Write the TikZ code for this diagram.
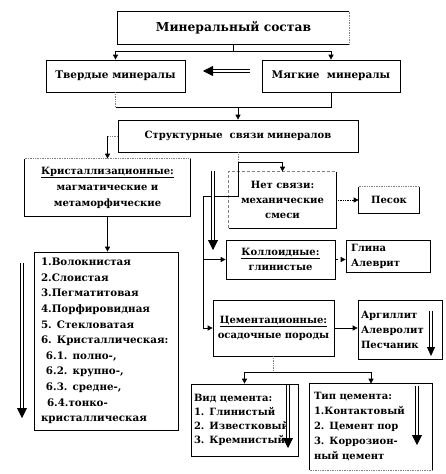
\documentclass[tikz,border=0pt]{standalone}
\usepackage{fontspec}
\setmainfont{DejaVu Serif}
\usetikzlibrary{arrows.meta}
\begin{document}
\begin{tikzpicture}[x={(1pt,0pt)}, y={(0pt,-1pt)},
  lw/.style={line width=0.7pt},
  box/.style={lw, draw, inner sep=0pt, font=\bfseries\fontsize{10}{15}\selectfont, align=center},
  nobox/.style={box, draw=none},
  lbox/.style={box, align=left},
  arr/.style={lw, -{Triangle[width=5pt,length=5pt]}},
  dbl/.style={double, double distance=2.2pt, line width=0.8pt, -{Triangle[width=10pt,length=10pt]}},
  dotside/.style={lw, densely dotted, gray}
]
\useasboundingbox (0,0) rectangle (445,474);

% nodes
\node[nobox, minimum width=231, minimum height=32, font=\bfseries\fontsize{12.3}{15}\selectfont] (min) at (233.5,28) {Минеральный состав};
\draw[lw] (min.north east) -- (min.north west) -- (min.south west) -- (min.south east);
\draw[dotside] (min.south east) -- (min.north east);

\node[box, minimum width=139, minimum height=32, font=\bfseries\fontsize{10.5}{15}\selectfont] (tverd) at (115.5,76) {Твердые минералы};
\node[box, minimum width=138, minimum height=32, font=\bfseries\fontsize{10.5}{15}\selectfont] (myag) at (331,76) {Мягкие \ минералы};

\node[box, minimum width=240, minimum height=32] (struct) at (238,136) {Структурные \ связи минералов};

\node[nobox, minimum width=165, minimum height=57, font=\bfseries\fontsize{10}{16}\selectfont] (kryst) at (107.5,187.5) {\underline{Кристаллизационные:}\\магматические и\\метаморфические};
\draw[lw] (kryst.north east) -- (kryst.south east) -- (kryst.south west) -- (kryst.north west);
\draw[dotside] (kryst.north west) -- (kryst.north east);

\node[lbox, minimum width=144, minimum height=178, text width=130, inner xsep=7, font=\bfseries\fontsize{10.3}{15.6}\selectfont] (list) at (106,341) {1.Волокнистая\\2.Слоистая\\3.Пегматитовая\\4.Порфировидная\\5. Стекловатая\\6. Кристаллическая:\\\hspace*{5pt}6.1. полно-,\\\hspace*{5pt}6.2. крупно-,\\\hspace*{5pt}6.3. средне-,\\\hspace*{6pt}6.4.тонко-\\кристаллическая};

\node[nobox, minimum width=107, minimum height=56] (net) at (282.5,200) {Нет связи:\\механические\\смеси};
\draw[lw] (net.north east) -- (net.south east) -- (net.south west);
\draw[lw, densely dashed, gray] (net.south west) -- (net.north west) -- (net.north east);

\node[nobox, minimum width=60, minimum height=26] (pesok) at (389,200) {Песок};
\draw[lw] (pesok.north east) -- (pesok.south east) -- (pesok.south west) -- (pesok.north west);
\draw[dotside] (pesok.north west) -- (pesok.north east);

\node[box, minimum width=109, minimum height=39] (koll) at (280.5,259.5) {\underline{Коллоидные:}\\глинистые};
\node[lbox, minimum width=84, minimum height=32, text width=74, inner xsep=5] (glina) at (388,256) {Глина\\Алеврит};

\node[box, minimum width=121, minimum height=56] (cem) at (273.5,328) {\underline{Цементационные:}\\осадочные породы};
\node[lbox, minimum width=84, minimum height=59, text width=78, inner xsep=3] (arg) at (400,329.5) {Аргиллит\\Алевролит\\Песчаник};

\node[lbox, minimum width=107, minimum height=72, text width=101, inner xsep=3, font=\bfseries\fontsize{10}{14}\selectfont] (vid) at (244.5,420) {Вид цемента:\\1. Глинистый\\2. Известковый\\3. Кремнистый};

\node[nobox, align=left, minimum width=122, minimum height=86, text width=114, inner xsep=4] (tip) at (371,427) {Тип цемента:\\1.Контактовый\\2. Цемент пор\\3. Коррозион-\\ный цемент};
\draw[lw] (tip.south west) -- (tip.north west) -- (tip.north east) -- (tip.south east);
\draw[dotside] (tip.south west) -- (tip.south east);

% junction coordinates
\coordinate (j1) at (0,51);
\coordinate (j2) at (0,107);
\coordinate (j3) at (0,162);
\coordinate (j4) at (203,196);
\coordinate (j5) at (0,372);

% connectors
\draw[lw] (min.south) -- (min.south |- j1);
\draw[lw] (tverd.north |- j1) -- (myag.north |- j1);
\draw[arr] (tverd.north |- j1) -- (tverd.north);
\draw[arr] (myag.north |- j1) -- (myag.north);

\draw[dotside] (tverd.south) -- (tverd.south |- j2);
\draw[lw] (tverd.south |- j2) -- (myag.south |- j2) -- (myag.south);
\draw[arr] (struct.north |- j2) -- (struct.north);

\draw[dotside] (struct.west) -- (struct.west -| kryst.north);
\draw[arr] (struct.west -| kryst.north) -- (kryst.north);
\draw[arr] (kryst.south) -- (kryst.south |- list.north);

\draw[dotside] (struct.south) -- (struct.south |- j3);
\draw[arr] (struct.south |- j3) -| (net.north);
\draw[lw] (struct.south |- j3) -- (struct.south |- j4) -- (j4) -- (j4 |- cem.west);
\draw[arr] (j4 |- koll.west) -- (koll.west);
\draw[arr] (j4 |- cem.west) -- (cem.west);

\draw[arr, densely dotted] (net.east) -- (pesok.west);
\draw[arr, dashed] (koll.east) -- (koll.east -| glina.west);
\draw[arr] (cem.east) -- (cem.east -| arg.west);

\draw[dotside] (cem.south) -- (cem.south |- j5);
\draw[lw] (vid.north |- j5) -- (tip.north |- j5);
\draw[arr] (vid.north |- j5) -- (vid.north);
\draw[arr] (tip.north |- j5) -- (tip.north);

% double arrows
\coordinate (da1) at (250,71);  \coordinate (da2) at (203,71);
\coordinate (dl1) at (22,263);  \coordinate (dl2) at (22,418);
\coordinate (dm1) at (213,171); \coordinate (dm2) at (213,250);
\coordinate (dv1) at (288,385); \coordinate (dv2) at (288,448);
\coordinate (dt1) at (417,386); \coordinate (dt2) at (417,445);
\coordinate (dg1) at (431,311); \coordinate (dg2) at (431,356);
\draw[dbl] (da1) -- (da2);
\draw[dbl] (dl1) -- (dl2);
\draw[dbl] (dm1) -- (dm2);
\draw[dbl] (dv1) -- (dv2);
\draw[dbl] (dt1) -- (dt2);
\draw[dbl, double distance=1.6pt, -{Triangle[width=8pt,length=9pt]}] (dg1) -- (dg2);
\end{tikzpicture}
\end{document}
